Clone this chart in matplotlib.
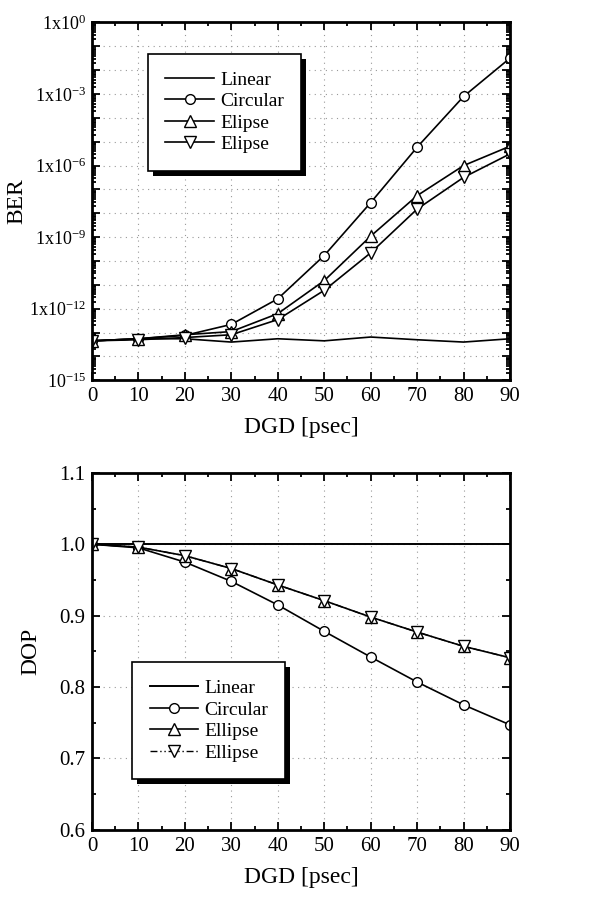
import numpy as np
import matplotlib
matplotlib.use('Agg')
import matplotlib.pyplot as plt
from matplotlib.ticker import FixedLocator, MultipleLocator, FuncFormatter, NullFormatter
from matplotlib.patches import Rectangle
from matplotlib.transforms import IdentityTransform

plt.rcParams['font.family'] = ['Liberation Serif', 'DejaVu Serif']
plt.rcParams['mathtext.fontset'] = 'custom'
plt.rcParams['mathtext.rm'] = 'Liberation Serif'
plt.rcParams['mathtext.it'] = 'Liberation Serif:italic'

# data
dgd = [0, 10, 20, 30, 40, 50, 60, 70, 80, 90]

ber_linear = [4.5e-14, 5.5e-14, 5.5e-14, 4.0e-14, 5.5e-14, 4.5e-14, 6.5e-14, 5.0e-14, 4.0e-14, 5.5e-14]
ber_circular = [4.5e-14, 5.5e-14, 7.6e-14, 2.2e-13, 2.6e-12, 1.7e-10, 2.8e-8, 5.9e-6, 7.9e-4, 3.2e-2]
ber_ellipse_up = [4.5e-14, 5.5e-14, 8.1e-14, 1.1e-13, 6.2e-13, 1.5e-11, 1.1e-9, 5.5e-8, 1.0e-6, 6.5e-6]
ber_ellipse_dn = [4.5e-14, 5.0e-14, 6.2e-14, 8.1e-14, 3.5e-13, 5.9e-12, 2.2e-10, 1.5e-8, 3.2e-7, 3.1e-6]

dop_linear = [1.0, 1.0, 1.0, 1.0, 1.0, 1.0, 1.0, 1.0, 1.0, 1.0]
dop_circular = [1.0, 0.995, 0.975, 0.948, 0.915, 0.878, 0.842, 0.807, 0.775, 0.747]
dop_ellipse_up = [1.0, 0.996, 0.984, 0.966, 0.943, 0.921, 0.898, 0.877, 0.857, 0.841]
dop_ellipse_dn = [1.0, 0.996, 0.984, 0.966, 0.943, 0.921, 0.898, 0.877, 0.857, 0.841]

labels = ['Linear', 'Circular', 'Elipse', 'Elipse']
labels_dop = ['Linear', 'Circular', 'Ellipse', 'Ellipse']

fig = plt.figure(figsize=(6.05, 8.99), dpi=100)
ax1 = fig.add_axes([0.152, 0.577, 0.691, 0.398])
ax2 = fig.add_axes([0.152, 0.077, 0.691, 0.397])

mk = dict(markerfacecolor='white', markeredgecolor='black', markeredgewidth=1.0)

# --- BER ---
ax1.plot(dgd, ber_linear, color='black', lw=1.2, label=labels[0])
ax1.plot(dgd, ber_circular, color='black', lw=1.2, marker='o', ms=7, label=labels[1], **mk)
ax1.plot(dgd, ber_ellipse_up, color='black', lw=1.2, marker='^', ms=8, label=labels[2], **mk)
ax1.plot(dgd, ber_ellipse_dn, color='black', lw=1.2, marker='v', ms=8, label=labels[3], **mk)
ax1.set_yscale('log')
ax1.set_ylim(1e-15, 1)
ax1.set_xlim(0, 90)
decades = [10.0 ** e for e in range(-15, 1)]
ax1.yaxis.set_major_locator(FixedLocator(decades))
ax1.yaxis.set_minor_locator(FixedLocator([s * d for d in decades[:-1] for s in range(2, 10)]))
ax1.yaxis.set_minor_formatter(NullFormatter())


def ber_fmt(v, pos):
    e = int(round(np.log10(v)))
    if e % 3:
        return ''
    if e == -15:
        return r'$10^{-15}$'
    return r'1x10$^{%d}$' % e


ax1.yaxis.set_major_formatter(FuncFormatter(ber_fmt))
ax1.set_ylabel('BER', fontsize=17)
ax1.yaxis.set_label_coords(-0.155, 0.5)

# --- DOP ---
ax2.plot(dgd, dop_linear, color='black', lw=1.4, label=labels_dop[0])
ax2.plot(dgd, dop_circular, color='black', lw=1.2, marker='o', ms=7, label=labels_dop[1], **mk)
ax2.plot(dgd, dop_ellipse_up, color='black', lw=1.2, marker='^', ms=8, label=labels_dop[2], **mk)
ax2.plot(dgd, dop_ellipse_dn, color='black', lw=1.0, ls=(0, (5, 2, 1, 2, 1, 2)), marker='v', ms=8,
         label=labels_dop[3], **mk)
ax2.set_xlim(0, 90)
ax2.set_ylim(0.6, 1.1)
ax2.yaxis.set_major_locator(MultipleLocator(0.1))
ax2.yaxis.set_minor_locator(MultipleLocator(0.05))
ax2.yaxis.set_major_formatter(FuncFormatter(lambda v, p: '%.1f' % v))
ax2.set_ylabel('DOP', fontsize=17)
ax2.yaxis.set_label_coords(-0.12, 0.5)

for ax in (ax1, ax2):
    ax.xaxis.set_major_locator(MultipleLocator(10))
    ax.xaxis.set_minor_locator(MultipleLocator(5))
    ax.set_xlabel('DGD [psec]', fontsize=17, labelpad=8)
    ax.tick_params(which='both', direction='in', top=True, right=True, labelsize=15, width=1.3)
    ax.tick_params(which='major', length=6, pad=5)
    ax.tick_params(which='minor', length=3)
    for s in ax.spines.values():
        s.set_linewidth(2)
    ax.grid(True, which='major', ls=(0, (1, 4)), color='0.6', lw=0.8)

ax1.tick_params(axis='y', which='major', labelsize=13, pad=4)

leg_kw = dict(loc='upper left', fontsize=14, frameon=True, fancybox=False, framealpha=1,
              edgecolor='black', handlelength=2.5, labelspacing=0.2, borderpad=0.9,
              handletextpad=0.3, borderaxespad=0)
leg1 = ax1.legend(bbox_to_anchor=(0.134, 0.913), **leg_kw)
leg2 = ax2.legend(bbox_to_anchor=(0.096, 0.47), **leg_kw)
for leg in (leg1, leg2):
    leg.get_frame().set_linewidth(1.2)
    leg.set_zorder(6)

# solid black drop shadow under each legend box
fig.canvas.draw()
for ax, leg in ((ax1, leg1), (ax2, leg2)):
    bb = leg.get_frame().get_window_extent()
    ax.add_patch(Rectangle((bb.x0 + 5, bb.y0 - 5), bb.width, bb.height, transform=IdentityTransform(),
                           facecolor='black', edgecolor='none', zorder=5.5, clip_on=False))

fig.savefig('out.png', dpi=100)
